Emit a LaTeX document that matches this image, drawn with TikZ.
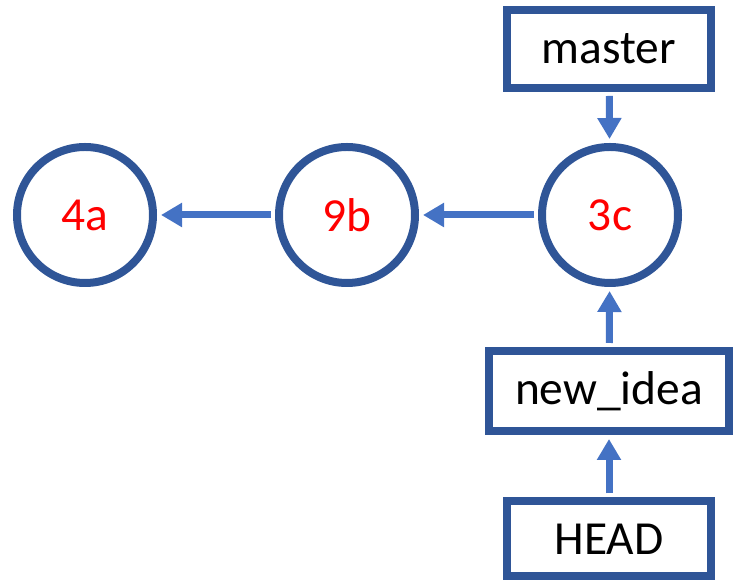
\documentclass[tikz,border=0pt]{standalone}
\usepackage{fontspec}
\setmainfont{Carlito}
\usetikzlibrary{arrows.meta}
\definecolor{bordo}{HTML}{2F5597}
\definecolor{freccia}{HTML}{4472C4}
\tikzset{
    commit/.style={draw=bordo, line width=0.16cm, circle, minimum size=2.72cm, inner sep=0pt, text=red, font=\fontsize{27}{32}\selectfont},
    ramo/.style={draw=bordo, line width=0.16cm, rectangle, minimum width=4.08cm, minimum height=1.56cm, inner sep=0pt, font=\fontsize{27}{32}\selectfont},
    punta/.style={-{Triangle[length=0.42cm, width=0.46cm]}, line width=0.14cm, freccia, shorten >=0.08cm, shorten <=0.08cm}
}
\begin{document}
\begin{tikzpicture}
    \useasboundingbox (0,0) rectangle (14.66,11.64);

    % Commit
    \node[commit] (c_4a) at (1.70,7.34) {4a};
    \node[commit] (c_9b) at (6.94,7.34) {9b};
    \node[commit] (c_3c) at (12.20,7.34) {3c};

    % Riferimenti
    \node[ramo] (ref_master) at (12.18,10.66) {master};
    \node[ramo, minimum width=4.8cm, minimum height=1.6cm] (ref_idea) at (12.18,3.82) {new\_idea};
    \node[ramo, minimum height=1.5cm] (ref_head) at (12.18,0.86) {HEAD};

    % Frecce verso il genitore
    \draw[punta] (c_9b) -- (c_4a);
    \draw[punta] (c_3c) -- (c_9b);

    % Frecce dei riferimenti
    \draw[punta] (ref_master) -- (c_3c);
    \draw[punta] (ref_idea) -- (c_3c);
    \draw[punta] (ref_head) -- (ref_idea);
\end{tikzpicture}
\end{document}
